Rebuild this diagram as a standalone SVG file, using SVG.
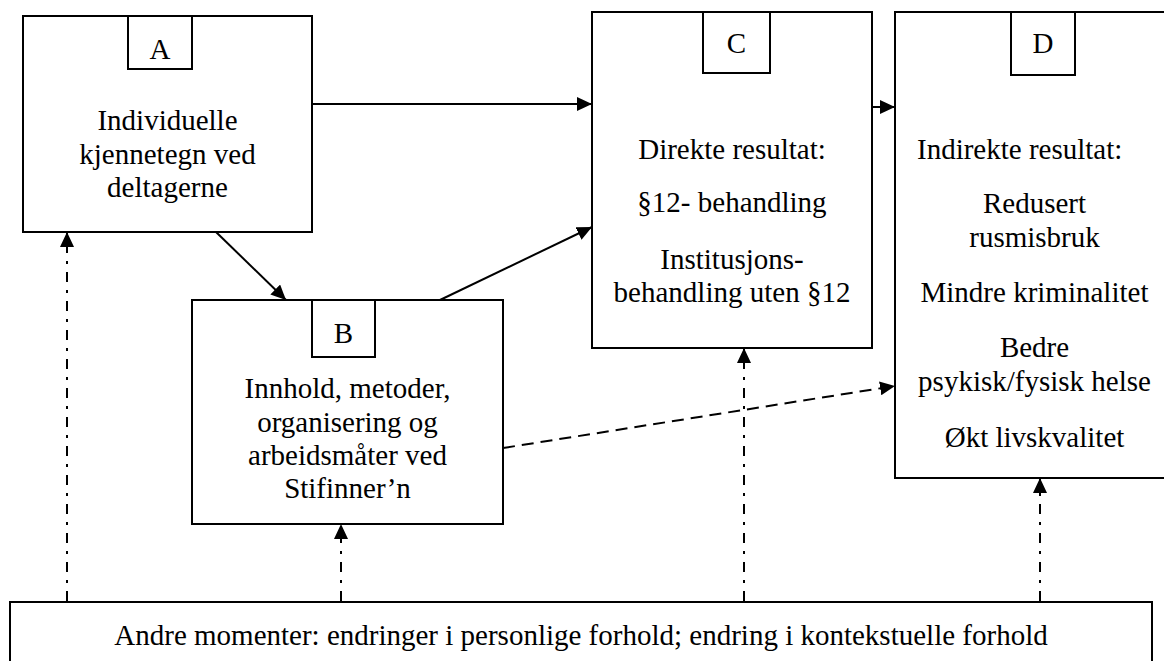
<svg xmlns="http://www.w3.org/2000/svg" width="1164" height="661" viewBox="0 0 1164 661">
<style>
.box{fill:#fff;stroke:#000;stroke-width:2}
text{font-family:'Liberation Serif','DejaVu Serif',serif;font-size:29px;fill:#000}
.c{text-anchor:middle}
.ln{stroke:#000;stroke-width:2;fill:none}
.dd{stroke-dasharray:10 8 3 8}
.da{stroke-dasharray:12 7}
</style>
<defs>
<marker id="ah" markerUnits="userSpaceOnUse" markerWidth="15" markerHeight="14" refX="15" refY="7" orient="auto">
<path d="M0,0 L15,7 L0,14 z" fill="#000"/>
</marker>
</defs>
<rect width="1164" height="661" fill="#fff"/>
<g id="nodeA">
<rect class="box" x="23" y="16" width="289" height="216"/>
<rect class="box" x="128" y="16" width="64" height="53"/>
<text class="c" x="160" y="59">A</text>
<text class="c" x="167.5" y="130">Individuelle</text>
<text class="c" x="167.5" y="164">kjennetegn ved</text>
<text class="c" x="167.5" y="197">deltagerne</text>
</g>
<g id="nodeB">
<rect class="box" x="192" y="300" width="311" height="224"/>
<rect class="box" x="312" y="300" width="63" height="57"/>
<text class="c" x="343.5" y="343">B</text>
<text class="c" x="347.5" y="398">Innhold, metoder,</text>
<text class="c" x="347.5" y="432">organisering og</text>
<text class="c" x="347.5" y="465">arbeidsmåter ved</text>
<text class="c" x="347.5" y="498">Stifinner’n</text>
</g>
<g id="nodeC">
<rect class="box" x="592" y="12" width="280" height="336"/>
<rect class="box" x="703" y="12" width="67" height="61"/>
<text class="c" x="736.5" y="53">C</text>
<text class="c" x="732" y="159">Direkte resultat:</text>
<text class="c" x="732" y="212">§12- behandling</text>
<text class="c" x="732" y="269">Institusjons-</text>
<text class="c" x="732" y="302">behandling uten §12</text>
</g>
<g id="nodeD">
<rect class="box" x="895" y="12" width="280" height="466"/>
<rect class="box" x="1011" y="12" width="64" height="63"/>
<text class="c" x="1043" y="53">D</text>
<text x="917" y="159">Indirekte resultat:</text>
<text class="c" x="1034.5" y="213">Redusert</text>
<text class="c" x="1034.5" y="247">rusmisbruk</text>
<text class="c" x="1034.5" y="302">Mindre kriminalitet</text>
<text class="c" x="1034.5" y="357">Bedre</text>
<text class="c" x="1034.5" y="391">psykisk/fysisk helse</text>
<text class="c" x="1034.5" y="447">Økt livskvalitet</text>
</g>
<g id="nodeE">
<rect class="box" x="10" y="602" width="1142" height="100"/>
<text class="c" x="581" y="645">Andre momenter: endringer i personlige forhold; endring i kontekstuelle forhold</text>
</g>
<g id="connectors">
<line class="ln" x1="312" y1="104" x2="592" y2="104" marker-end="url(#ah)"/>
<line class="ln" x1="872" y1="107" x2="895" y2="107" marker-end="url(#ah)"/>
<line class="ln" x1="216" y1="232" x2="286" y2="300" marker-end="url(#ah)"/>
<line class="ln" x1="440" y1="300" x2="592" y2="227" marker-end="url(#ah)"/>
<line class="ln da" x1="503" y1="448" x2="895" y2="386" marker-end="url(#ah)"/>
<line class="ln dd" x1="67" y1="601" x2="67" y2="232" marker-end="url(#ah)"/>
<line class="ln dd" x1="341" y1="601" x2="341" y2="524" marker-end="url(#ah)"/>
<line class="ln dd" x1="744" y1="601" x2="744" y2="348" marker-end="url(#ah)"/>
<line class="ln dd" x1="1040" y1="601" x2="1040" y2="478" marker-end="url(#ah)"/>
</g>
</svg>
